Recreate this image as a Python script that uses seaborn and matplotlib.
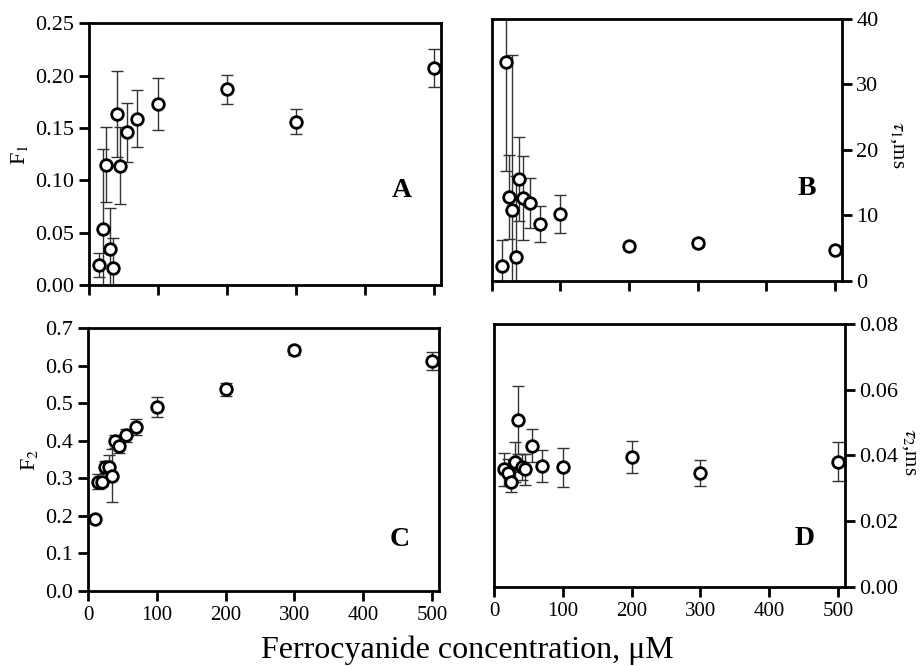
import numpy as np
import pandas as pd
import seaborn as sns
import matplotlib
matplotlib.use("Agg")
import matplotlib.pyplot as plt

# Data (ferrocyanide concentration in uM)
conc = [15, 20, 25, 30, 35, 40, 45, 55, 70, 100, 200, 300, 500]
conc_f2 = [10, 15, 20, 25, 30, 35, 40, 45, 55, 70, 100, 200, 300, 500]

f1 = [0.019, 0.054, 0.115, 0.034, 0.016, 0.163, 0.114, 0.146, 0.159, 0.173, 0.187, 0.156, 0.207]
f1_err = [0.0115, 0.076, 0.036, 0.040, 0.029, 0.041, 0.037, 0.028, 0.027, 0.025, 0.014, 0.012, 0.018]

tau1 = [2.3, 33.4, 12.8, 10.9, 3.6, 15.6, 12.7, 11.9, 8.7, 10.2, 5.3, 5.85, 4.7]
tau1_err = [3.9, 16.7, 6.4, 23.6, 12.4, 6.4, 6.4, 3.8, 2.8, 2.9, 0.5, 0.6, 0.5]

f2 = [0.191, 0.291, 0.291, 0.329, 0.331, 0.307, 0.398, 0.385, 0.414, 0.437, 0.489, 0.537, 0.640, 0.611]
f2_err = [0.0, 0.020, 0.012, 0.016, 0.030, 0.070, 0.017, 0.018, 0.018, 0.022, 0.027, 0.017, 0.011, 0.024]

tau2 = [0.0358, 0.0348, 0.032, 0.038, 0.0508, 0.0364, 0.0358, 0.0429, 0.0368, 0.0364, 0.0396, 0.0346, 0.0381]
tau2_err = [0.005, 0.004, 0.003, 0.006, 0.0102, 0.004, 0.0048, 0.005, 0.005, 0.006, 0.0048, 0.0039, 0.0059]

sns.set_style("ticks")
plt.rcParams['font.family'] = ['Liberation Serif', 'DejaVu Serif']
plt.rcParams['mathtext.fontset'] = 'stix'
plt.rcParams['text.color'] = 'black'
plt.rcParams['axes.labelcolor'] = 'black'

fig, axes = plt.subplots(2, 2, figsize=(9.21, 6.66), dpi=100)
(axA, axB), (axC, axD) = axes

# axes boxes in figure fractions (left, bottom, width, height)
axA.set_position([0.0966, 0.572, 0.382, 0.393])
axB.set_position([0.534, 0.578, 0.380, 0.394])
axC.set_position([0.0955, 0.1126, 0.3812, 0.395])
axD.set_position([0.5364, 0.1186, 0.3811, 0.395])

panels = [
    (axA, conc, f1, f1_err, (0, 0.25), np.arange(0, 0.26, 0.05), '{:.2f}', 'F$_1$', 'left', 'A', (0.888, 0.363)),
    (axB, conc, tau1, tau1_err, (0, 40), np.arange(0, 41, 10), '{:.0f}', r'$\tau_1$,ms', 'right', 'B', (0.899, 0.354)),
    (axC, conc_f2, f2, f2_err, (0, 0.7), np.arange(0, 0.71, 0.1), '{:.1f}', 'F$_2$', 'left', 'C', (0.889, 0.194)),
    (axD, conc, tau2, tau2_err, (0, 0.08), np.arange(0, 0.081, 0.02), '{:.2f}', r'$\tau_2$,ms', 'right', 'D', (0.886, 0.185)),
]

# right-hand axis titles placed in figure coords (reference has them near the edge)
right_label_pos = {'B': (0.974, 0.782), 'D': (0.988, 0.321)}

for i, (ax, x, y, err, ylim, yt, fmt, ylab, side, letter, pos) in enumerate(panels):
    df = pd.DataFrame({'x': x, 'y': y, 'err': err})
    ax.errorbar(df['x'], df['y'], yerr=df['err'], fmt='none', ecolor='#333333',
                elinewidth=1.0, capsize=4, capthick=1.0, zorder=2)
    sns.scatterplot(data=df, x='x', y='y', ax=ax, marker='o', s=70,
                    facecolor='white', edgecolor='black', linewidth=2.0, zorder=3)
    ax.set_xlim(0, 510)
    ax.set_ylim(*ylim)
    ax.set_xticks([0, 100, 200, 300, 400, 500])
    ax.set_yticks(yt)
    ax.set_yticklabels([fmt.format(v) for v in yt])
    for sp in ax.spines.values():
        sp.set_visible(True)
        sp.set_linewidth(2.0)
        sp.set_color('black')
    ax.tick_params(direction='out', length=7, width=2.0, colors='black', labelsize=16)
    ax.tick_params(axis='x', labelsize=15)
    if side == 'right':
        ax.yaxis.tick_right()
        ax.set_ylabel('')
        lx, ly = right_label_pos[letter]
        fig.text(lx, ly, ylab, rotation=270, ha='center', va='center', fontsize=15)
    else:
        ax.set_ylabel(ylab, fontsize=16, labelpad=4)
    if i < 2:
        ax.tick_params(axis='x', labelbottom=False)
    ax.set_xlabel('')
    ax.text(pos[0], pos[1], letter, transform=ax.transAxes, ha='center', va='center',
            fontsize=20, fontweight='bold', color='black')

fig.text(0.508, 0.024, 'Ferrocyanide concentration, \u03bcM', ha='center', va='center', fontsize=23)

fig.savefig('out.png', dpi=100)
